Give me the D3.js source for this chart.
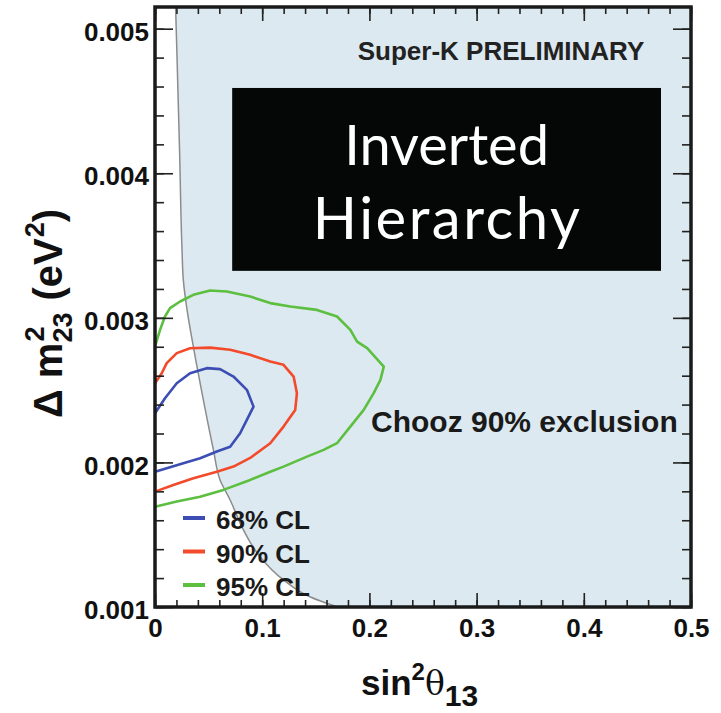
<!DOCTYPE html>
<html>
<head>
<meta charset="utf-8">
<script src="https://cdn.jsdelivr.net/npm/d3@7"></script>
<style>
  body { margin: 0; background: #fff; }
  text { font-family: "Liberation Sans", Arial, sans-serif; }
</style>
</head>
<body>
<div id="chart"></div>
<script>
// axis ticks
const xTicks = [0, 0.1, 0.2, 0.3, 0.4, 0.5];
const yTicks = [0.001, 0.002, 0.003, 0.004, 0.005];

// Chooz 90% exclusion boundary (excluded to the right)
const choozS = [0.0192, 0.0206, 0.0229, 0.0252, 0.0264, 0.0299, 0.0358, 0.0451, 0.0545, 0.0607, 0.0701, 0.0825, 0.0981, 0.1199, 0.1449, 0.1701];
const choozM = [0.005152, 0.004785, 0.004163, 0.003471, 0.003263, 0.003055, 0.002799, 0.002433, 0.002087, 0.001879, 0.00174, 0.001533, 0.001346, 0.001187, 0.001069, 0.001];

// 68% CL contour
const cl68S = [0, 0.0093, 0.0203, 0.0327, 0.0483, 0.0607, 0.0732, 0.0857, 0.0919, 0.0872, 0.0794, 0.0701, 0.0577, 0.0421, 0.0264, 0.0109, 0];
const cl68M = [0.00234, 0.002444, 0.002548, 0.002617, 0.002652, 0.002645, 0.002594, 0.002502, 0.002386, 0.002317, 0.002202, 0.002109, 0.002075, 0.002029, 0.001994, 0.00196, 0.001936];

// 90% CL contour
const cl90S = [0, 0.0063, 0.0109, 0.0203, 0.0327, 0.0514, 0.0701, 0.0888, 0.1075, 0.1199, 0.1293, 0.1324, 0.1308, 0.1199, 0.1075, 0.0888, 0.0732, 0.0577, 0.0358, 0.0171, 0];
const cl90M = [0.002548, 0.002617, 0.002687, 0.002756, 0.00279, 0.002794, 0.002779, 0.002744, 0.002698, 0.002675, 0.002594, 0.002479, 0.002363, 0.002248, 0.002133, 0.002031, 0.001971, 0.001936, 0.001891, 0.001844, 0.001798];

// 95% CL contour
const cl95S = [0, 0.0047, 0.0093, 0.014, 0.0234, 0.0358, 0.0514, 0.067, 0.0888, 0.1075, 0.1262, 0.1511, 0.1698, 0.1822, 0.1885, 0.1979, 0.2134, 0.2103, 0.204, 0.1947, 0.1822, 0.1698, 0.1573, 0.1418, 0.1199, 0.1075, 0.0888, 0.0638, 0.0421, 0.0203, 0];
const cl95M = [0.002801, 0.002917, 0.003009, 0.003067, 0.003113, 0.003159, 0.003189, 0.003182, 0.003147, 0.003102, 0.003078, 0.003055, 0.003009, 0.002917, 0.002836, 0.00279, 0.002663, 0.002571, 0.002479, 0.002363, 0.002248, 0.002133, 0.002087, 0.00204, 0.001971, 0.001936, 0.001879, 0.00181, 0.001763, 0.001729, 0.001694];

const legendLabels = ["68% CL", "90% CL", "95% CL"];
const colors = ["#3c4db4", "#f24a2a", "#5cbf40"];

const width = 721, height = 713;
const pLeft = 155, pRight = 691, pTop = 7, pBottom = 607;

const svg = d3.select('#chart').append('svg')
    .attr('width', width)
    .attr('height', height);

const x = d3.scaleLinear().domain([0, 0.5]).range([pLeft, pRight]);
const y = d3.scaleLinear().domain([0.001, 0.00515]).range([pBottom, pTop]);

// excluded region fill
const zip = (s, m) => s.map((v, i) => [v, m[i]]);
const chooz = zip(choozS, choozM);
const fillPts = chooz.concat([[x.domain()[1], y.domain()[0]], [x.domain()[1], y.domain()[1]], [choozS[0], y.domain()[1]]]);
const line = d3.line().x(d => x(d[0])).y(d => y(d[1]));

svg.append('path')
    .attr('d', line(fillPts) + 'Z')
    .attr('fill', '#dce9f0');

svg.append('path')
    .attr('d', line.curve(d3.curveMonotoneY)(chooz))
    .attr('fill', 'none')
    .attr('stroke', '#8c8c8c')
    .attr('stroke-width', 1.5);
line.curve(d3.curveLinear);

// box with hierarchy label
const boxX0 = 0.072, boxX1 = 0.472, boxM0 = 0.003325, boxM1 = 0.00459;
svg.append('rect')
    .attr('x', x(boxX0))
    .attr('y', y(boxM1))
    .attr('width', x(boxX1) - x(boxX0))
    .attr('height', y(boxM0) - y(boxM1))
    .attr('fill', '#050707');

const boxCx = (x(boxX0) + x(boxX1)) / 2;
svg.append('text')
    .attr('x', boxCx)
    .attr('y', y(boxM1) + 77)
    .attr('text-anchor', 'middle')
    .attr('fill', 'white')
    .style('font-family', 'Lato, sans-serif')
    .style('font-size', '56px')
    .text('Inverted');
svg.append('text')
    .attr('x', boxCx + 1)
    .attr('y', y(boxM1) + 151)
    .attr('text-anchor', 'middle')
    .attr('fill', 'white')
    .style('font-family', 'Lato, sans-serif')
    .style('font-size', '58px')
    .style('letter-spacing', '2.5px')
    .text('Hierarchy');

svg.append('text')
    .attr('x', 501)
    .attr('y', 60)
    .attr('text-anchor', 'middle')
    .style('font-weight', 'bold')
    .style('font-size', '26px')
    .attr('fill', '#222')
    .text('Super-K PRELIMINARY');

svg.append('text')
    .attr('x', 371)
    .attr('y', 432)
    .style('font-weight', 'bold')
    .style('font-size', '30px')
    .attr('fill', '#1a1a1a')
    .text('Chooz 90% exclusion');

// contours
[[cl68S, cl68M], [cl90S, cl90M], [cl95S, cl95M]].forEach((c, i) => {
    svg.append('path')
        .attr('d', line(zip(c[0], c[1])))
        .attr('fill', 'none')
        .attr('stroke', colors[i])
        .attr('stroke-width', 2.6)
        .attr('stroke-linejoin', 'round');
});

// legend
const legend = svg.append('g').attr('transform', `translate(${pLeft + 28}, ${pBottom - 89})`);
legendLabels.forEach((lab, i) => {
    legend.append('line')
        .attr('x1', 0).attr('x2', 22)
        .attr('y1', i * 33.5).attr('y2', i * 33.5)
        .attr('stroke', colors[i])
        .attr('stroke-width', 4);
    legend.append('text')
        .attr('x', 33)
        .attr('y', i * 33.5 + 11)
        .style('font-weight', 'bold')
        .style('font-size', '26px')
        .attr('fill', '#1a1a1a')
        .text(lab);
});

// axes
const xMinor = d3.range(0, 0.5001, 0.02);
const yMinor = d3.range(0.001, 0.00516, 0.0002);
const fmtX = d => d === 0 ? '0' : d3.format('.1f')(d);

function styleAxis(g) {
    g.select('.domain').remove();
    g.selectAll('line').attr('stroke', '#222').attr('stroke-width', 1.6);
    g.selectAll('text')
        .attr('fill', '#111')
        .style('font-family', '"Liberation Sans", Arial, sans-serif')
        .style('font-weight', 'bold')
        .style('font-size', '26px');
}

svg.append('g').attr('transform', `translate(0,${pBottom})`)
    .call(d3.axisBottom(x).tickValues(xMinor).tickSize(-7).tickFormat(''))
    .call(styleAxis);
svg.append('g').attr('transform', `translate(0,${pBottom})`)
    .call(d3.axisBottom(x).tickValues(xTicks).tickSize(-14).tickPadding(12).tickFormat(fmtX))
    .call(styleAxis);
svg.append('g').attr('transform', `translate(0,${pTop})`)
    .call(d3.axisTop(x).tickValues(xMinor).tickSize(-7).tickFormat(''))
    .call(styleAxis);
svg.append('g').attr('transform', `translate(0,${pTop})`)
    .call(d3.axisTop(x).tickValues(xTicks).tickSize(-14).tickFormat(''))
    .call(styleAxis);

svg.append('g').attr('transform', `translate(${pLeft},0)`)
    .call(d3.axisLeft(y).tickValues(yMinor).tickSize(-9).tickFormat(''))
    .call(styleAxis);
svg.append('g').attr('transform', `translate(${pLeft},0)`)
    .call(d3.axisLeft(y).tickValues(yTicks).tickSize(-18).tickPadding(6).tickFormat(d3.format('.3f')))
    .call(styleAxis)
    .selectAll('text').attr('dy', '0.45em');
svg.append('g').attr('transform', `translate(${pRight},0)`)
    .call(d3.axisRight(y).tickValues(yMinor).tickSize(-9).tickFormat(''))
    .call(styleAxis);
svg.append('g').attr('transform', `translate(${pRight},0)`)
    .call(d3.axisRight(y).tickValues(yTicks).tickSize(-18).tickFormat(''))
    .call(styleAxis);

// frame
svg.append('rect')
    .attr('x', pLeft).attr('y', pTop)
    .attr('width', pRight - pLeft).attr('height', pBottom - pTop)
    .attr('fill', 'none')
    .attr('stroke', '#1a1a1a')
    .attr('stroke-width', 3.5);

// x axis title
const xt = svg.append('text')
    .attr('x', 361)
    .attr('y', 695)
    .attr('fill', '#111')
    .style('font-weight', 'bold')
    .style('font-size', '35px');
xt.append('tspan').text('sin');
xt.append('tspan').attr('dy', -15).style('font-size', '24px').text('2');
xt.append('tspan').attr('dy', 15).style('font-weight', 'normal').style('font-family', '"DejaVu Serif", serif').style('font-size', '33px').text('θ');
xt.append('tspan').attr('dy', 11).style('font-size', '30px').text('13');

// y axis title (rotated)
const yt = svg.append('g').attr('transform', 'translate(62,418) rotate(-90)');
function piece(txt, px, dy, size) {
    const t = yt.append('text')
        .attr('x', px).attr('y', dy)
        .attr('fill', '#111')
        .style('font-weight', 'bold')
        .style('font-size', size + 'px')
        .text(txt);
    return t.node().getComputedTextLength();
}
let pos = 0;
pos += piece('\u0394 m', pos, 0, 40);
const supW = piece('2', pos + 1, -18, 27);
const subW = piece('23', pos, 10, 27);
pos += Math.max(supW, subW) + 12;
pos += piece('(eV', pos, 0, 40);
pos += piece('2', pos + 1, -18, 27) + 1;
piece(')', pos, 0, 40);
</script>
</body>
</html>
